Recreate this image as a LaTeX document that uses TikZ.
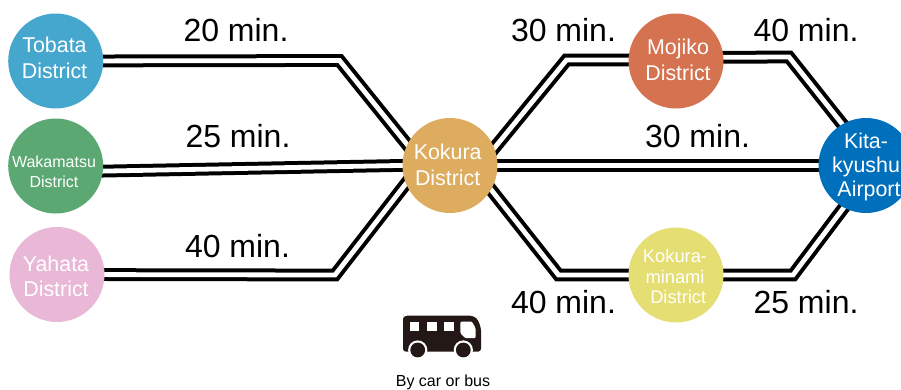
\documentclass[tikz,border=0pt]{standalone}
\usepackage{fontspec}
\setmainfont{Liberation Sans}
\usetikzlibrary{backgrounds}
\definecolor{tobatac}{HTML}{46A7CE}
\definecolor{wakac}{HTML}{5BA873}
\definecolor{yahatac}{HTML}{E9B8D6}
\definecolor{kokurac}{HTML}{DDAC5F}
\definecolor{mojikoc}{HTML}{D57250}
\definecolor{minamic}{HTML}{E5DE72}
\definecolor{airportc}{HTML}{0070BC}
\definecolor{busc}{HTML}{231815}
\tikzset{
 district/.style={circle,inner sep=0pt,minimum size=95pt},
 disttext/.style={inner sep=0pt,text=white,align=center,font=\fontsize{21.4}{25.4}\selectfont},
 distsmall/.style={disttext,font=\fontsize{16}{19.6}\selectfont},
 distmid/.style={disttext,font=\fontsize{18.3}{20.9}\selectfont},
 distair/.style={disttext,font=\fontsize{21.4}{24.2}\selectfont},
 rail/.style={draw=black,double=white,double distance=4.8pt,line width=4pt,line join=miter},
 timelabel/.style={inner sep=0pt,anchor=base,font=\fontsize{32}{34}\selectfont,text=black},
}
\begin{document}
\begin{tikzpicture}[x=1pt,y=-1pt]
\useasboundingbox (0,0) rectangle (901,389);
\clip (0,0) rectangle (901,389);
\node[district,fill=tobatac] (tobata) at (55.7,61) {};
\node[disttext] (tobatat) at (54.5,58) {Tobata\\District};
\node[district,fill=wakac] (wakamatsu) at (55.7,166) {};
\node[distsmall] (wakamatsut) at (54,172) {Wakamatsu\\District};
\node[district,fill=yahatac] (yahata) at (57,274.5) {};
\node[disttext] (yahatat) at (56,276.2) {Yahata\\District};
\node[district,fill=kokurac] (kokura) at (450,165.5) {};
\node[disttext] (kokurat) at (447.7,164.8) {Kokura\\District};
\node[district,fill=mojikoc] (mojiko) at (676,61) {};
\node[disttext] (mojikot) at (678,60) {Mojiko\\District};
\node[district,fill=minamic] (minami) at (676,275) {};
\node[distmid] (minamit) at (675,276.5) {Kokura-\\minami\\\hspace*{6.4pt}District};
\node[district,fill=airportc] (airport) at (866,165.5) {};
\node[distair] (airportt) at (866,167) {Kita-\\kyushu\\\hspace*{6pt}Airport};

\coordinate (c1) at (339.5,60.5);
\coordinate (e1) at (420,160.5);
\coordinate (c2) at (335,275);
\coordinate (e2) at (420,165.5);
\coordinate (c3) at (566.5,60);
\coordinate (e3) at (480,165.5);
\coordinate (c4) at (789,57);
\coordinate (e4) at (860,146.5);
\coordinate (c5) at (558.5,275);
\coordinate (e5) at (470,163);
\coordinate (c6) at (793,275);
\coordinate (e6) at (860,186);
\begin{scope}[on background layer]
\draw[rail] (tobata.center) -- (c1) -- (e1);
\draw[rail] (yahata.center) -- (c2) -- (e2);
\draw[rail] ([yshift=-6pt]wakamatsu.center) -- ([yshift=1pt]kokura.center);
\draw[rail] (kokura.center) -- (airport.center);
\draw[rail] (e3) -- (c3) -- ([yshift=1pt]mojiko.center);
\draw[rail] ([yshift=3.5pt]mojiko.center) -- (c4) -- (e4);
\draw[rail] (e5) -- (c5) -- (minami.center);
\draw[rail] (minami.center) -- (c6) -- (e6);
\end{scope}

\node[timelabel] (t1) at (236,41) {20 min.};
\node[timelabel] (t2) at (238,147) {25 min.};
\node[timelabel] (t3) at (237.5,257.7) {40 min.};
\node[timelabel] (t4) at (563.5,41) {30 min.};
\node[timelabel] (t5) at (806,41) {40 min.};
\node[timelabel] (t6) at (697.5,147) {30 min.};
\node[timelabel] (t7) at (563.5,313) {40 min.};
\node[timelabel] (t8) at (806,313) {25 min.};

% bus
\fill[busc,rounded corners=3pt] (403,318) -- (403,351.7) -- (481,351.7) -- (481,328) -- (478,320) [rounded corners=4pt] -- (474,315.7) -- (403,315.7) -- cycle;
\fill[white] (410,321.7) rectangle (419.3,331);
\fill[white] (427.3,321.7) rectangle (436.7,331);
\fill[white] (444.3,321.7) rectangle (454,331);
\fill[white,rounded corners=1pt] (460.3,321.7) -- (460.3,333) -- (465,338) -- (475.5,338) -- (475.5,328) -- (472,321.7) -- cycle;
\fill[white] (417.7,350) circle (9.6pt);
\fill[white] (463.3,350) circle (9.6pt);
\fill[busc] (417.7,350) circle (7.4pt);
\fill[busc] (463.3,350) circle (7.4pt);
\node[inner sep=0pt,anchor=base,font=\fontsize{16}{18}\selectfont,text=black] (cap) at (443,386) {By car or bus};
\end{tikzpicture}
\end{document}
